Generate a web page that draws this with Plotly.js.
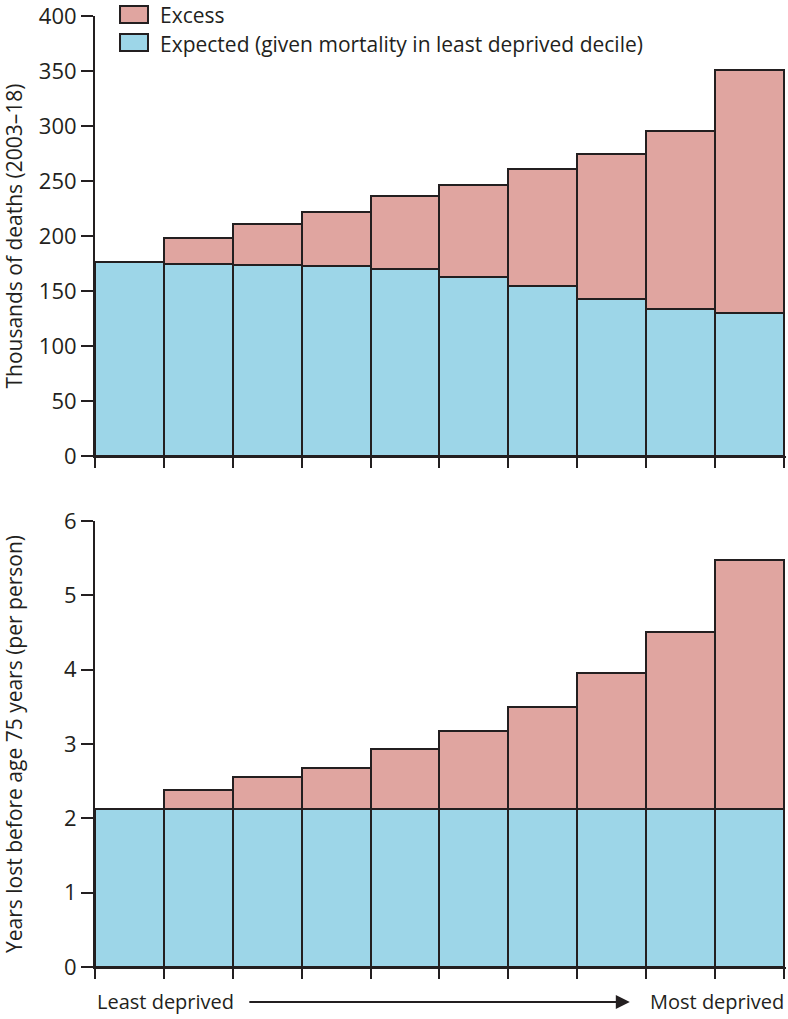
<!DOCTYPE html>
<html><head><meta charset="utf-8">
<script src="https://cdn.plot.ly/plotly-3.0.1.min.js"></script>
<style>body{margin:0;padding:0;background:#fff}#chart{width:788px;height:1019px}</style>
</head><body><div id="chart"></div>
<script>
const deciles = [1,2,3,4,5,6,7,8,9,10];
const deathsExpected = [176, 174.4, 173.5, 172.6, 170, 162.7, 154.6, 143, 134, 130];
const deathsTotal = [176, 197.8, 211, 222, 236.4, 246.3, 260.7, 275, 295.7, 350.6];
const yllExpected = [2.125, 2.125, 2.125, 2.125, 2.125, 2.125, 2.125, 2.125, 2.125, 2.125];
const yllTotal = [2.125, 2.38, 2.556, 2.68, 2.93, 3.175, 3.50, 3.955, 4.507, 5.476];
const legendLabels = ['Excess', 'Expected (given mortality in least deprived decile)'];

const deathsExcess = deathsTotal.map((t,i)=>t-deathsExpected[i]);
const yllExcess = yllTotal.map((t,i)=>t-yllExpected[i]);
const xpos = deciles.map(d=>d-0.5);

const blue = 'rgb(157,214,232)', pink = 'rgb(224,165,160)', ink = '#231f20';
const mk = c => ({color:c, line:{color:ink, width:2}});
const font = {family:'Open Sans, sans-serif', size:21, color:ink};
const font20 = {family:'Open Sans, sans-serif', size:20, color:ink};
const tickfont = {family:'Open Sans, sans-serif', size:22, color:ink};

const traces = [
  {type:'bar', x:xpos, y:deathsExpected, width:1, marker:mk(blue), name:legendLabels[1], xaxis:'x', yaxis:'y'},
  {type:'bar', x:xpos, y:deathsExcess, width:1, marker:mk(pink), name:legendLabels[0], xaxis:'x', yaxis:'y'},
  {type:'bar', x:xpos, y:yllExpected, width:1, marker:mk(blue), xaxis:'x2', yaxis:'y2'},
  {type:'bar', x:xpos, y:yllExcess, width:1, marker:mk(pink), xaxis:'x2', yaxis:'y2'}
];

const xax = a => Object.assign({range:[0,10.03], showgrid:false, zeroline:false, showline:true, linecolor:ink, linewidth:2,
  ticks:'outside', ticklen:10, tickwidth:2, tickcolor:ink, tickvals:[0,1,2,3,4,5,6,7,8,9,10], showticklabels:false, fixedrange:true}, a);
const yax = a => Object.assign({showgrid:false, zeroline:false, showline:true, linecolor:ink, linewidth:2,
  ticks:'outside', ticklen:12, tickwidth:2, tickcolor:ink, tickfont:tickfont, ticklabeloverflow:'allow'}, a);

const layout = {
  width:788, height:1019,
  margin:{l:95, r:2, t:16, b:52},
  paper_bgcolor:'#fff', plot_bgcolor:'#fff',
  barmode:'stack', bargap:0,
  font:font,
  showlegend:false,
  xaxis: xax({domain:[0,1], anchor:'y'}),
  yaxis: yax({domain:[0.5373,1], range:[0,400], tickvals:[0,50,100,150,200,250,300,350,400], anchor:'x',
    title:{text:'Thousands of deaths (2003–18)', font:font, standoff:14}}),
  xaxis2: xax({domain:[0,1], anchor:'y2'}),
  yaxis2: yax({domain:[0,0.469], range:[0,6], tickvals:[0,1,2,3,4,5,6], anchor:'x2',
    title:{text:'Years lost before age 75 years (per person)', font:font, standoff:39}}),
  shapes:[
    {type:'rect', xref:'paper', yref:'paper', x0:0.0362, x1:0.0767, y0:0.9926, y1:1.0105, fillcolor:pink, line:{color:ink, width:2}},
    {type:'rect', xref:'paper', yref:'paper', x0:0.0362, x1:0.0767, y0:0.9632, y1:0.9811, fillcolor:blue, line:{color:ink, width:2}}
  ],
  annotations:[
    {xref:'paper', yref:'paper', x:0.0912, y:1.0011, xanchor:'left', yanchor:'middle', text:legendLabels[0], showarrow:false, font:font},
    {xref:'paper', yref:'paper', x:0.0912, y:0.9706, xanchor:'left', yanchor:'middle', text:legendLabels[1], showarrow:false, font:font},
    {xref:'paper', yref:'paper', x:0, y:-0.0368, xanchor:'left', yanchor:'middle', text:'Least deprived', showarrow:false, font:font20},
    {xref:'paper', yref:'paper', x:1, y:-0.0368, xanchor:'right', yanchor:'middle', text:'Most deprived', showarrow:false, font:font20},
    {xref:'paper', yref:'paper', x:0.774, y:-0.0368, text:'', showarrow:true, ax:-382, ay:0, arrowhead:2, arrowsize:1.4, arrowwidth:2, arrowcolor:ink}
  ]
};
Plotly.newPlot('chart', traces, layout, {displayModeBar:false, staticPlot:true});
</script></body></html>
